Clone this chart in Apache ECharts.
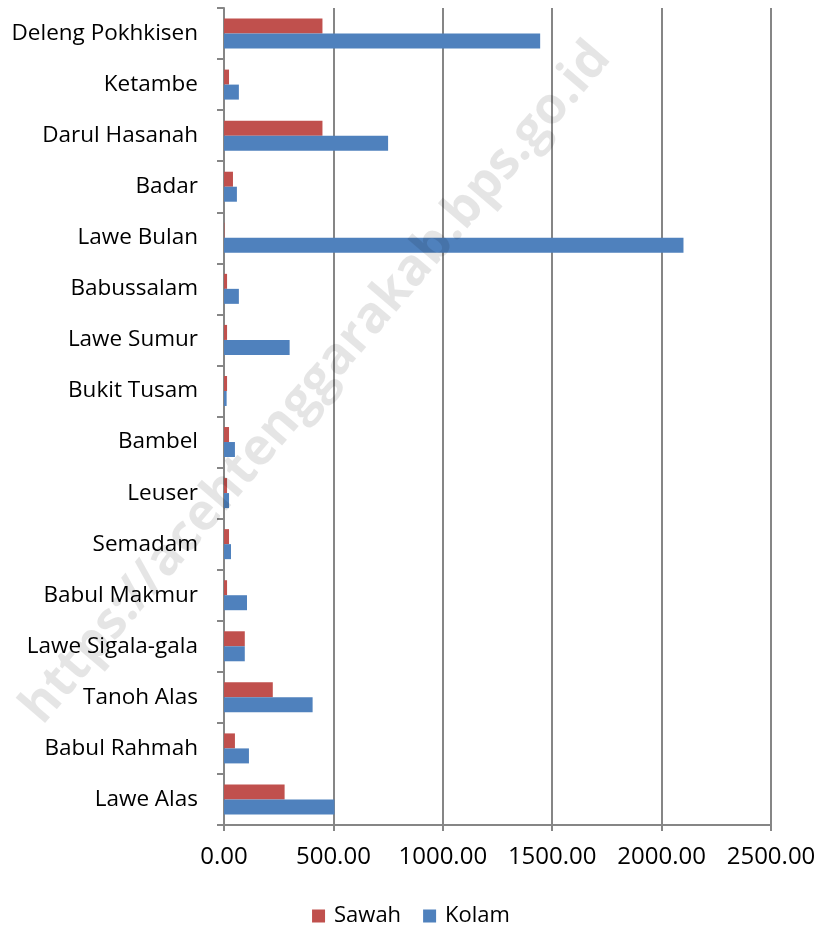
<!DOCTYPE html>
<html>
<head>
<meta charset="utf-8">
<script src="https://cdn.jsdelivr.net/npm/echarts@6/dist/echarts.min.js"></script>
<style>
  html, body { margin: 0; padding: 0; background: #fff; }
  #chart { width: 822px; height: 927px; }
</style>
</head>
<body>
<div id="chart"></div>
<script>
  // categories, top to bottom as in the picture
  var kecamatan = ['Deleng Pokhkisen', 'Ketambe', 'Darul Hasanah', 'Badar', 'Lawe Bulan',
    'Babussalam', 'Lawe Sumur', 'Bukit Tusam', 'Bambel', 'Leuser', 'Semadam',
    'Babul Makmur', 'Lawe Sigala-gala', 'Tanoh Alas', 'Babul Rahmah', 'Lawe Alas'];
  var sawah = [450, 23, 450, 41, 2, 14, 14, 14, 23, 14, 23, 14, 95, 223, 50, 277];
  var kolam = [1445, 68, 750, 59, 2100, 68, 300, 12, 50, 23, 32, 105, 95, 405, 114, 505];
  var xTicks = [0, 500, 1000, 1500, 2000, 2500];

  var fontName = 'Open Sans';
  var axisGray = '#868686';

  var chart = echarts.init(document.getElementById('chart'));

  var option = {
    animation: false,
    textStyle: { fontFamily: fontName },
    grid: {
      top: 8,
      right: 51,
      bottom: 102,
      left: 224,
      containLabel: false
    },
    legend: {
      top: 900,
      left: 'center',
      itemWidth: 13,
      itemHeight: 13,
      itemGap: 22,
      icon: 'rect',
      textStyle: { fontSize: 22, color: '#000', fontFamily: fontName, padding: [0, 0, 0, 4] },
      data: ['Sawah', 'Kolam']
    },
    xAxis: {
      type: 'value',
      position: 'bottom',
      min: xTicks[0],
      max: xTicks[xTicks.length - 1],
      interval: 500,
      axisLine: { show: true, lineStyle: { color: axisGray, width: 2 } },
      axisTick: { show: true, length: 6, lineStyle: { color: axisGray, width: 2 } },
      splitLine: { show: true, lineStyle: { color: axisGray, width: 2 } },
      axisLabel: {
        fontSize: 24,
        color: '#000',
        margin: 20,
        formatter: function (v) { return v.toFixed(2); }
      }
    },
    yAxis: {
      type: 'category',
      inverse: true,
      data: kecamatan,
      axisLine: { show: true, lineStyle: { color: axisGray, width: 2 } },
      axisTick: { show: true, length: 7, lineStyle: { color: axisGray, width: 2 } },
      axisLabel: { fontSize: 22.5, color: '#000', margin: 26 }
    },
    graphic: [{
      type: 'text',
      x: 12,
      y: 700,
      rotation: Math.PI * 49.5 / 180,
      style: {
        text: 'https://acehtenggarakab.bps.go.id',
        x: 0,
        y: 0,
        textBaseline: 'bottom',
        fill: 'rgba(0,0,0,0.1)',
        font: 'bold 51px "Open Sans"'
      },
      z: 100
    }],
    series: [
      {
        name: 'Sawah',
        type: 'bar',
        data: sawah,
        barWidth: 15,
        barGap: '0%',
        itemStyle: { color: '#c0504d' }
      },
      {
        name: 'Kolam',
        type: 'bar',
        data: kolam,
        barWidth: 15,
        barGap: '0%',
        itemStyle: { color: '#4f81bd' }
      }
    ]
  };

  chart.setOption(option);
</script>
</body>
</html>
